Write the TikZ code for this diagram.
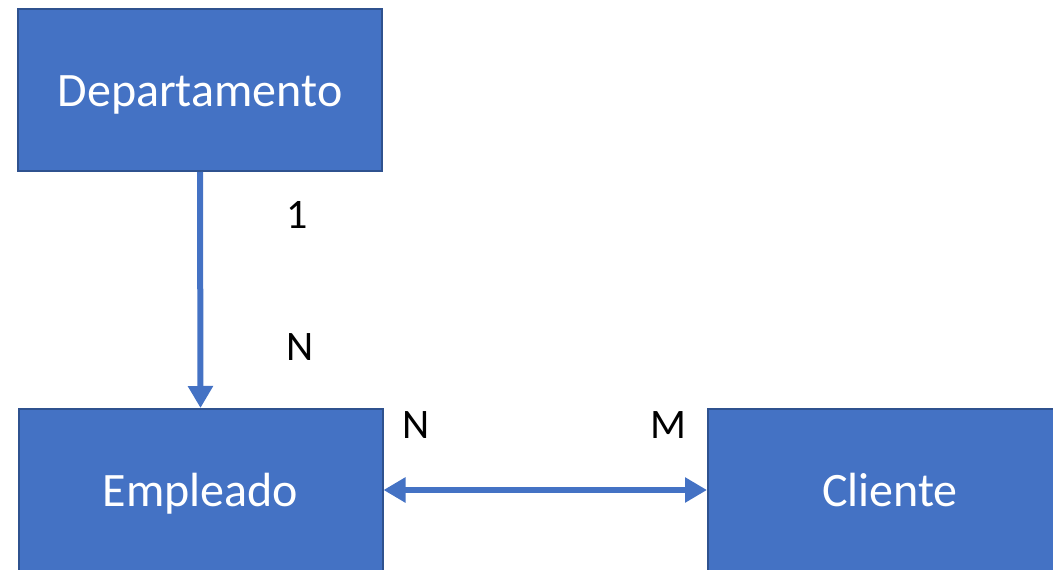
\documentclass[tikz,border=0pt]{standalone}
\usepackage{fontspec}
\setmainfont{Carlito}
\usetikzlibrary{arrows.meta}
\definecolor{boxfill}{HTML}{4472C4}
\definecolor{boxline}{HTML}{2F528F}
\begin{document}
\begin{tikzpicture}[x=1pt,y=-1pt,
  entity/.style={draw=boxline, line width=2pt, fill=boxfill, text=white,
    minimum width=364pt, minimum height=162pt, inner sep=0pt,
    text height=36pt, text depth=4pt,
    font=\fontsize{48}{56}\selectfont},
  card/.style={text=black, inner sep=0pt, font=\fontsize{42}{50}\selectfont},
  link/.style={draw=boxfill, line width=6pt,
    -{Triangle[length=22pt,width=24pt]}, shorten >=0pt}]
\useasboundingbox (0,0) rectangle (1053,570);
\clip (0,0) rectangle (1053,570);
\node[entity] (depto) at (200,90) {Departamento};
\node[entity] (emp) at (200.5,490) {Empleado};
\node[entity] (cli) at (890,490) {Cliente};
\draw[link] (depto.south) -- (emp.north);
\draw[link, {Triangle[length=22pt,width=24pt]}-{Triangle[length=22pt,width=24pt]}] (emp.east) -- (cli.west);
\node[card] (c1) at (297,215) {1};
\node[card] (cN1) at (300,347) {N};
\node[card] (cN2) at (416,425) {N};
\node[card] (cM) at (668,425) {M};
\end{tikzpicture}
\end{document}
